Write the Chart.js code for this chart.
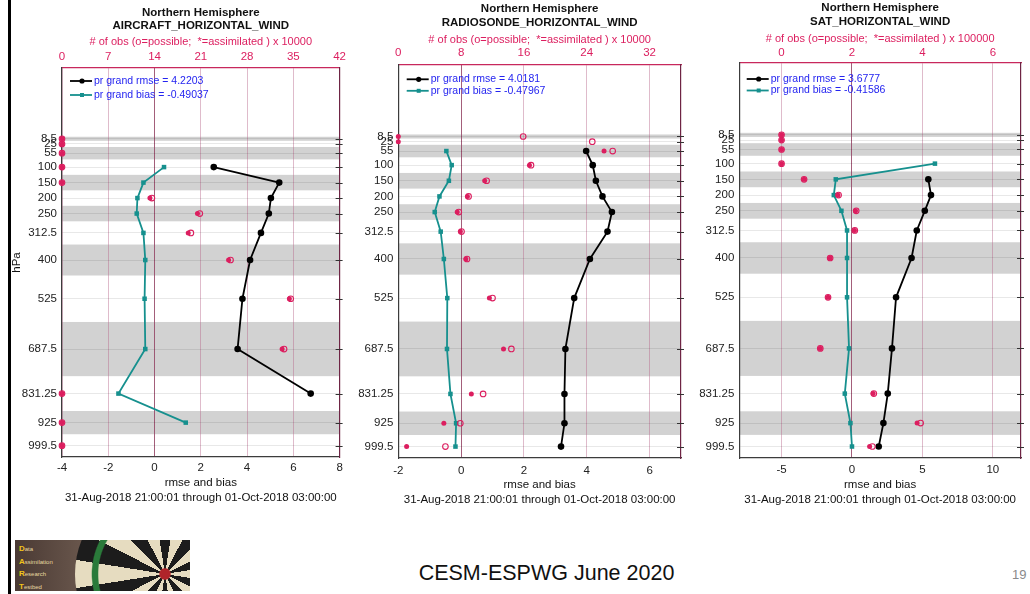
<!DOCTYPE html>
<html>
<head>
<meta charset="utf-8">
<script src="https://cdn.jsdelivr.net/npm/chart.js@4.4.0/dist/chart.umd.min.js"></script>
<style>
  html, body { margin: 0; padding: 0; background: #fff; }
  body { width: 1030px; height: 594px; position: relative; overflow: hidden; font-family: 'Liberation Sans', Arial, sans-serif; }
  canvas { position: absolute; top: 0; }
  .edge { position: absolute; left: 8px; top: 0; width: 3px; height: 594px; background: #000; }
  .footer { position: absolute; left: 0; width: 1093px; top: 561px; text-align: center; font-size: 21.5px; color: #111; }
  .pageno { position: absolute; left: 1012px; top: 567px; font-size: 13px; color: #8a8a8a; }
  .logo { position: absolute; left: 15px; top: 540px; width: 175px; height: 51px; overflow: hidden;
          background: linear-gradient(90deg, #4a3a34 0%, #6e5b50 45%, #8f7d6c 100%); }
  .logo .board { position: absolute; left: 60px; top: -56px; width: 180px; height: 180px; border-radius: 50%;
          background: conic-gradient(#1c1c1c 0 9deg, #e6dcc0 9deg 27deg, #1c1c1c 27deg 45deg, #e6dcc0 45deg 63deg, #1c1c1c 63deg 81deg, #e6dcc0 81deg 99deg, #1c1c1c 99deg 117deg, #e6dcc0 117deg 135deg, #1c1c1c 135deg 153deg, #e6dcc0 153deg 171deg, #1c1c1c 171deg 189deg, #e6dcc0 189deg 207deg, #1c1c1c 207deg 225deg, #e6dcc0 225deg 243deg, #1c1c1c 243deg 261deg, #e6dcc0 261deg 279deg, #1c1c1c 279deg 297deg, #e6dcc0 297deg 315deg, #1c1c1c 315deg 333deg, #e6dcc0 333deg 351deg, #1c1c1c 351deg 360deg); }
  .logo .rings { position: absolute; left: 60px; top: -56px; width: 180px; height: 180px; border-radius: 50%;
          background: radial-gradient(circle, #b0242a 0 4%, rgba(0,0,0,0) 5% 52%, #2a7a3a 53% 57%, rgba(0,0,0,0) 58% 82%, #2a7a3a 83% 87%, #141414 88% 100%); }
  .logo .txt { position: absolute; left: 4px; top: 3px; font-size: 6px; line-height: 11.5px; color: #e8d9a0; }
  .logo .txt b { color: #f2c419; font-size: 8px; }
</style>
</head>
<body>
<div class="edge"></div>
<canvas id="air" width="340" height="507" style="left:10px"></canvas>
<canvas id="raob" width="340" height="510" style="left:350px"></canvas>
<canvas id="sat" width="340" height="510" style="left:690px"></canvas>
<div class="logo"><div class="board"></div><div class="rings"></div>
  <div class="txt"><b>D</b>ata<br><b>A</b>ssimilation<br><b>R</b>esearch<br><b>T</b>estbed</div></div>
<div class="footer">CESM-ESPWG June 2020</div>
<div class="pageno">19</div>
<script>
// pressure levels (hPa) and the shaded layers
const LEVELS = [8.5, 25, 55, 100, 150, 200, 250, 312.5, 400, 525, 687.5, 831.25, 925, 999.5];
const LEVEL_LABELS = ["8.5", "25", "55", "100", "150", "200", "250", "312.5", "400", "525", "687.5", "831.25", "925", "999.5"];
const BAND_TOP = [2, 35, 125, 225, 350, 600, 887.5];
const BAND_BOTTOM = [15, 75, 175, 275, 450, 775, 962.5];
const Y_MIN = -220;
const Y_MAX = 1036;

const DATE_RANGE = "31-Aug-2018 21:00:01 through 01-Oct-2018 03:00:00";

// AIRCRAFT
const AIR_RMSE = [null, null, null, 2.56, 5.39, 5.03, 4.94, 4.6, 4.13, 3.8, 3.59, 6.75, null, null];
const AIR_BIAS = [null, null, null, 0.41, -0.48, -0.74, -0.77, -0.48, -0.4, -0.43, -0.4, -1.56, 1.35, null];
const AIR_POSS = [0, 0, 0, 0, 0, 13.6, 20.85, 19.5, 25.5, 34.6, 33.6, 0, 0, 0];
const AIR_ASSIM = [0, 0, 0, 0, 0, 13.3, 20.5, 19.1, 25.2, 34.4, 33.3, 0, 0, 0];
const AIR_X_TICKS = [-4, -2, 0, 2, 4, 6, 8];
const AIR_OBS_TICKS = [0, 7, 14, 21, 28, 35, 42];

// RADIOSONDE
const RAOB_RMSE = [null, null, 3.98, 4.19, 4.29, 4.5, 4.8, 4.66, 4.1, 3.6, 3.32, 3.29, 3.29, 3.18];
const RAOB_BIAS = [null, null, -0.47, -0.3, -0.39, -0.69, -0.84, -0.65, -0.55, -0.44, -0.45, -0.34, -0.16, -0.18];
const RAOB_POSS = [15.9, 24.7, 27.3, 16.9, 11.25, 8.95, 7.7, 8.05, 8.75, 12.0, 14.4, 10.8, 7.9, 6.0];
const RAOB_ASSIM = [0, 0, 26.2, 16.7, 11.0, 8.8, 7.5, 7.9, 8.6, 11.6, 13.4, 9.3, 5.8, 1.06];
const RAOB_X_TICKS = [-2, 0, 2, 4, 6];
const RAOB_OBS_TICKS = [0, 8, 16, 24, 32];

// SAT
const SAT_RMSE = [null, null, null, null, 5.42, 5.61, 5.17, 4.6, 4.23, 3.13, 2.84, 2.54, 2.23, 1.9];
const SAT_BIAS = [null, null, null, 5.89, -1.15, -1.29, -0.75, -0.35, -0.35, -0.35, -0.21, -0.51, -0.11, 0.0];
const SAT_POSS = [0, 0, 0, 0, 0.64, 1.62, 2.12, 2.08, 1.38, 1.32, 1.1, 2.62, 3.95, 2.58];
const SAT_ASSIM = [0, 0, 0, 0, 0.64, 1.6, 2.1, 2.07, 1.38, 1.32, 1.1, 2.6, 3.85, 2.5];
const SAT_X_TICKS = [-5, 0, 5, 10];
const SAT_OBS_TICKS = [0, 2, 4, 6];

const FONT = "'Liberation Sans', Arial, sans-serif";
const PINK = "#dc1e5f";
const TEAL = "#16908e";
const GRID_PINK = "rgba(185, 105, 140, 0.45)";
const AXIS_DARK = "#3c3c3c";
const LEGEND_BLUE = "#2424f0";

function toPoints(values) {
  return values.map((v, i) => ({ x: v, y: LEVELS[i] })).filter(p => p.x !== null);
}

// gray layers behind everything, small level ticks on the right border
const bandsPlugin = {
  id: "bands",
  beforeDraw(chart) {
    const { ctx, chartArea: a, scales: { y } } = chart;
    ctx.save();
    ctx.fillStyle = "rgb(210, 210, 210)";
    BAND_TOP.forEach((p, i) => {
      const y0 = y.getPixelForValue(p);
      const y1 = y.getPixelForValue(BAND_BOTTOM[i]);
      ctx.fillRect(a.left, y0, a.right - a.left, y1 - y0);
    });
    ctx.restore();
  },
  afterDraw(chart) {
    const { ctx, chartArea: a, scales: { y } } = chart;
    ctx.save();
    ctx.strokeStyle = "#333";
    ctx.lineWidth = 1;
    LEVELS.forEach(p => {
      const py = Math.round(y.getPixelForValue(p)) + 0.5;
      ctx.beginPath();
      ctx.moveTo(a.right - 4, py);
      ctx.lineTo(a.right + 3, py);
      ctx.stroke();
    });
    ctx.restore();
  }
};

// legend drawn inside the plot
const legendPlugin = {
  id: "panelLegend",
  afterDraw(chart, args, opts) {
    const { ctx, chartArea: a } = chart;
    const rows = [
      { color: "#000", circle: true, text: opts.rmse },
      { color: TEAL, circle: false, text: opts.bias }
    ];
    ctx.save();
    ctx.font = "10.5px " + FONT;
    ctx.textBaseline = "middle";
    rows.forEach((r, i) => {
      const y = a.top + opts.top + i * opts.gap;
      const x0 = a.left + opts.left;
      ctx.strokeStyle = r.color;
      ctx.lineWidth = 1.8;
      ctx.beginPath();
      ctx.moveTo(x0, y);
      ctx.lineTo(x0 + 22, y);
      ctx.stroke();
      ctx.fillStyle = r.color;
      if (r.circle) {
        ctx.beginPath();
        ctx.arc(x0 + 12, y, 2.6, 0, Math.PI * 2);
        ctx.fill();
      } else {
        ctx.fillRect(x0 + 10, y - 2, 4, 4);
      }
      ctx.fillStyle = LEGEND_BLUE;
      ctx.fillText(r.text, x0 + 24, y);
    });
    ctx.restore();
  }
};

function renderPanel(id, p, g) {
  const ctx = document.getElementById(id).getContext("2d");
  const tickFont = { family: FONT, size: 11.5 };

  new Chart(ctx, {
    type: "line",
    data: {
      datasets: [
        {
          label: "assimilated",
          data: toPoints(p.assim),
          xAxisID: "x2",
          showLine: false,
          pointStyle: "circle",
          pointRadius: 2.5,
          pointBorderWidth: 0,
          pointBackgroundColor: PINK,
          clip: false,
          order: 0
        },
        {
          label: "possible",
          data: toPoints(p.poss),
          xAxisID: "x2",
          showLine: false,
          pointStyle: "circle",
          pointRadius: 2.8,
          pointBorderWidth: 1.1,
          pointBorderColor: PINK,
          pointBackgroundColor: "rgba(0,0,0,0)",
          clip: false,
          order: 0
        },
        {
          label: "bias",
          data: toPoints(p.bias),
          borderColor: TEAL,
          borderWidth: 1.8,
          tension: 0,
          pointStyle: "rect",
          pointRadius: 3.2,
          pointBorderWidth: 0,
          pointBackgroundColor: TEAL,
          clip: false,
          order: 1
        },
        {
          label: "rmse",
          data: toPoints(p.rmse),
          borderColor: "#000",
          borderWidth: 1.8,
          tension: 0,
          pointStyle: "circle",
          pointRadius: 3.3,
          pointBorderWidth: 0,
          pointBackgroundColor: "#000",
          clip: false,
          order: 1
        }
      ]
    },
    options: {
      responsive: false,
      animation: false,
      layout: { padding: 0, autoPadding: false },
      plugins: {
        legend: { display: false },
        tooltip: { enabled: false },
        title: {
          display: true,
          fullSize: false,
          text: ["Northern Hemisphere", p.name],
          color: "#111",
          font: { family: FONT, size: 11.5, weight: "bold", lineHeight: g.titleLH / 11.5 },
          padding: { top: g.titlePad, bottom: 0 }
        },
        panelLegend: { rmse: p.rmseText, bias: p.biasText, left: g.legLeft, top: g.legTop, gap: g.legGap }
      },
      scales: {
        x: {
          type: "linear",
          position: "bottom",
          min: p.xMin,
          max: p.xMax,
          afterBuildTicks: axis => { axis.ticks = p.xTicks.map(v => ({ value: v })); },
          afterFit: s => { s.height = g.bottomH; },
          ticks: { color: "#222", font: tickFont, padding: g.bottomTickPad, autoSkip: false, maxRotation: 0 },
          grid: {
            drawTicks: false,
            tickLength: 0,
            color: c => (c.tick && c.tick.value === 0 ? "rgba(110, 30, 60, 0.75)" : "rgba(0,0,0,0)")
          },
          border: { color: AXIS_DARK, width: 1.2 },
          title: {
            display: true,
            text: ["rmse and bias", DATE_RANGE],
            color: "#111",
            font: { family: FONT, size: 11.5, lineHeight: 15 / 11.5 },
            padding: { top: 0, bottom: g.bottomTitlePad }
          }
        },
        x2: {
          type: "linear",
          position: "top",
          min: p.obsMin,
          max: p.obsMax,
          afterBuildTicks: axis => { axis.ticks = p.obsTicks.map(v => ({ value: v })); },
          afterFit: s => { s.height = g.topH; },
          ticks: { color: PINK, font: tickFont, padding: g.topTickPad, autoSkip: false, maxRotation: 0 },
          grid: { drawTicks: false, tickLength: 0, color: GRID_PINK, lineWidth: 1 },
          border: { color: "#c8285c", width: 1.2 },
          title: {
            display: true,
            text: "# of obs (o=possible;  *=assimilated ) x " + p.obsScale,
            color: PINK,
            font: { family: FONT, size: 11, lineHeight: 13 / 11 },
            padding: { top: g.topTitlePad, bottom: 0 }
          }
        },
        y: {
          type: "linear",
          position: "left",
          reverse: true,
          min: Y_MIN,
          max: Y_MAX,
          afterBuildTicks: axis => { axis.ticks = LEVELS.map(v => ({ value: v })); },
          afterFit: s => { s.width = g.yW; },
          ticks: {
            color: "#222",
            font: tickFont,
            padding: 5,
            autoSkip: false,
            callback: v => LEVEL_LABELS[LEVELS.indexOf(v)]
          },
          grid: { drawTicks: false, tickLength: 0, color: "rgba(0, 0, 0, 0.09)" },
          border: { color: AXIS_DARK, width: 1.2 },
          title: {
            display: g.yTitle,
            text: "hPa",
            color: "#111",
            font: { family: FONT, size: 11.5, lineHeight: 13 / 11.5 },
            padding: { top: 0.5, bottom: 0 }
          }
        },
        yr: {
          type: "linear",
          position: "right",
          reverse: true,
          min: Y_MIN,
          max: Y_MAX,
          ticks: { display: false },
          grid: { display: false, drawOnChartArea: false },
          border: { color: "#6e2444", width: 1.2 },
          afterFit: s => { s.width = g.rW; }
        }
      }
    },
    plugins: [bandsPlugin, legendPlugin]
  });
}

renderPanel("air", {
  name: "AIRCRAFT_HORIZONTAL_WIND",
  rmse: AIR_RMSE, bias: AIR_BIAS, poss: AIR_POSS, assim: AIR_ASSIM,
  xMin: -4, xMax: 8, xTicks: AIR_X_TICKS,
  obsMin: 0, obsMax: 42, obsTicks: AIR_OBS_TICKS, obsScale: "10000",
  rmseText: "pr grand rmse = 4.2203", biasText: "pr grand bias = -0.49037"
}, {
  yW: 52, rW: 8, titlePad: 6.5, titleLH: 13, topH: 35.5, topTitlePad: 3, topTickPad: 4,
  bottomH: 50, bottomTickPad: 4, bottomTitlePad: 1.5, yTitle: true,
  legLeft: 8, legTop: 13, legGap: 14
});

renderPanel("raob", {
  name: "RADIOSONDE_HORIZONTAL_WIND",
  rmse: RAOB_RMSE, bias: RAOB_BIAS, poss: RAOB_POSS, assim: RAOB_ASSIM,
  xMin: -2, xMax: 7, xTicks: RAOB_X_TICKS,
  obsMin: 0, obsMax: 36, obsTicks: RAOB_OBS_TICKS, obsScale: "10000",
  rmseText: "pr grand rmse = 4.0181", biasText: "pr grand bias = -0.47967"
}, {
  yW: 48.3, rW: 9, titlePad: 2.3, titleLH: 14, topH: 34.7, topTitlePad: 3.2, topTickPad: 5,
  bottomH: 52, bottomTickPad: 6, bottomTitlePad: 2.5, yTitle: false,
  legLeft: 8.4, legTop: 14.3, legGap: 11.5
});

renderPanel("sat", {
  name: "SAT_HORIZONTAL_WIND",
  rmse: SAT_RMSE, bias: SAT_BIAS, poss: SAT_POSS, assim: SAT_ASSIM,
  xMin: -8, xMax: 12, xTicks: SAT_X_TICKS,
  obsMin: -1.2, obsMax: 6.8, obsTicks: SAT_OBS_TICKS, obsScale: "100000",
  rmseText: "pr grand rmse = 3.6777", biasText: "pr grand bias = -0.41586"
}, {
  yW: 49.3, rW: 9, titlePad: 1.3, titleLH: 14, topH: 33.7, topTitlePad: 3.5, topTickPad: 3.4,
  bottomH: 52, bottomTickPad: 5, bottomTitlePad: 2.5, yTitle: false,
  legLeft: 7.4, legTop: 16, legGap: 11.5
});
</script>
</body>
</html>
